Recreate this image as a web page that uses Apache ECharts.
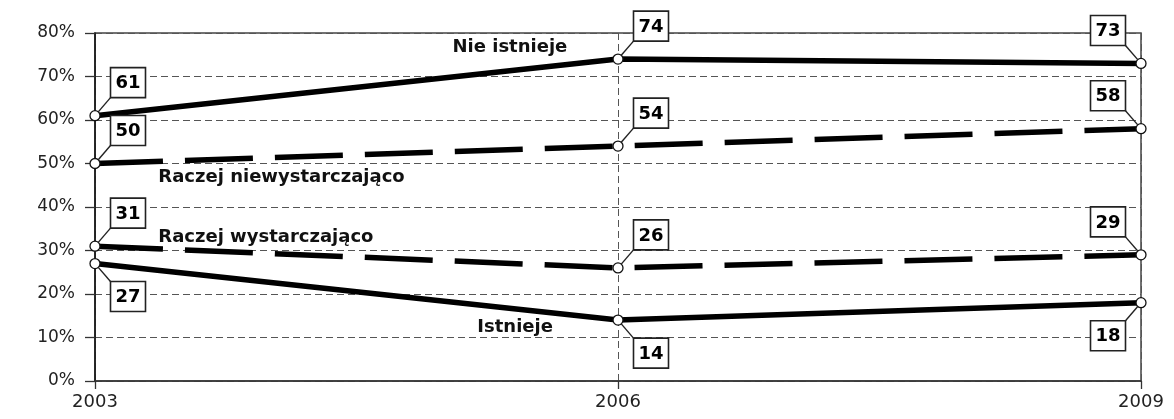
<!DOCTYPE html>
<html>
<head>
<meta charset="utf-8">
<script src="https://cdn.jsdelivr.net/npm/echarts@6/dist/echarts.min.js"></script>
<style>
html,body{margin:0;padding:0;background:#fff;}
#c{width:1174px;height:419px;}
</style>
</head>
<body>
<div id="c"></div>
<script>
// ---- data ----
const years = [2003, 2006, 2009];
const yTicks = [0, 10, 20, 30, 40, 50, 60, 70, 80];
const seriesNames = ['Nie istnieje', 'Raczej niewystarczająco', 'Raczej wystarczająco', 'Istnieje'];
const nieIstnieje = [61, 74, 73];
const raczejNiewystarczajaco = [50, 54, 58];
const raczejWystarczajaco = [31, 26, 29];
const istnieje = [27, 14, 18];

// ---- styling / layout config (not data) ----
const FONT = 'DejaVu Sans';
// label box offset direction per series (x sign, y sign) per point
const labelDirs = [
  [[1, -1], [1, -1], [-1, -1]],
  [[1, -1], [1, -1], [-1, -1]],
  [[1, -1], [1, -1], [-1, -1]],
  [[1, 1], [1, 1], [-1, 1]]
];
const nameAnchors = [[2005.38, 76.8], [2004.07, 46.9], [2003.98, 33.1], [2005.41, 12.4]];
const dashed = [false, true, true, false];
const allValues = [nieIstnieje, raczejNiewystarczajaco, raczejWystarczajaco, istnieje];

const chart = echarts.init(document.getElementById('c'), null, {renderer: 'canvas'});

const series = allValues.map((vals, si) => ({
  name: seriesNames[si],
  type: 'line',
  data: vals.map((v, i) => [years[i], v]),
  z: 5 - si * 0.1,
  symbol: 'circle',
  symbolSize: 10,
  showAllSymbol: true,
  itemStyle: {color: '#fff', borderColor: '#111', borderWidth: 1.3},
  lineStyle: {
    color: '#000',
    width: 5.5,
    type: dashed[si] ? [68, 22] : 'solid',
    cap: 'butt'
  },
  label: {show: false},
  markPoint: {
    symbol: 'circle',
    symbolSize: 0,
    silent: true,
    data: [{
      coord: nameAnchors[si],
      value: seriesNames[si],
      label: {
        show: true,
        position: 'inside',
        formatter: seriesNames[si],
        fontFamily: FONT,
        fontWeight: 'bold',
        fontSize: 18,
        color: '#111'
      }
    }]
  },
  animation: false
}));

// boxed value labels with leader lines
const boxData = [];
allValues.forEach((vals, si) => vals.forEach((v, i) => boxData.push([years[i], v, si, i])));
series.push({
  type: 'custom',
  z: 10,
  silent: true,
  data: boxData,
  renderItem: function (params, api) {
    const x = api.value(0), y = api.value(1);
    const si = api.value(2), i = api.value(3);
    const p = api.coord([x, y]);
    const d = labelDirs[si][i];
    const w = 35, h = 30;
    const cx = p[0] + d[0] * 33, cy = p[1] + d[1] * 33;
    const corner = [cx - d[0] * w / 2, cy - d[1] * h / 2];
    const vx = corner[0] - p[0], vy = corner[1] - p[1];
    const len = Math.sqrt(vx * vx + vy * vy);
    const r = 5;
    return {
      type: 'group',
      children: [
        {type: 'line', shape: {x1: p[0] + vx / len * r, y1: p[1] + vy / len * r, x2: corner[0], y2: corner[1]},
          style: {stroke: '#222', lineWidth: 1.4}},
        {type: 'rect', shape: {x: cx - w / 2, y: cy - h / 2, width: w, height: h},
          style: {fill: '#fff', stroke: '#222', lineWidth: 1.6}},
        {type: 'text', style: {text: String(y), x: cx, y: cy + 1, align: 'center', verticalAlign: 'middle',
          font: 'bold 18px "DejaVu Sans"', fill: '#000'}}
      ]
    };
  },
  animation: false
});

chart.setOption({
  animation: false,
  backgroundColor: '#fff',
  grid: {
    left: 95, right: 33, top: 33, bottom: 38,
    show: true, borderColor: '#444', borderWidth: 1.5, backgroundColor: 'transparent'
  },
  xAxis: {
    type: 'value',
    min: years[0], max: years[years.length - 1], interval: 3,
    axisLine: {show: true, lineStyle: {color: '#333', width: 1.5}},
    axisTick: {show: true, length: 8, lineStyle: {color: '#333', width: 1.3}},
    axisLabel: {
      fontFamily: FONT, fontSize: 18, color: '#222', margin: 12,
      formatter: v => years.includes(v) ? String(v) : ''
    },
    splitLine: {show: true, lineStyle: {color: '#555', width: 1, type: [7, 4]}}
  },
  yAxis: {
    type: 'value',
    min: yTicks[0], max: yTicks[yTicks.length - 1], interval: 10,
    axisLine: {show: true, lineStyle: {color: '#111', width: 1.5}},
    axisTick: {show: true, length: 10, lineStyle: {color: '#333', width: 1.3}},
    axisLabel: {
      fontFamily: FONT, fontSize: 17, color: '#222', margin: 20,
      formatter: v => v + '%'
    },
    splitLine: {show: true, lineStyle: {color: '#555', width: 1, type: [7, 4]}}
  },
  series: series
});
</script>
</body>
</html>
